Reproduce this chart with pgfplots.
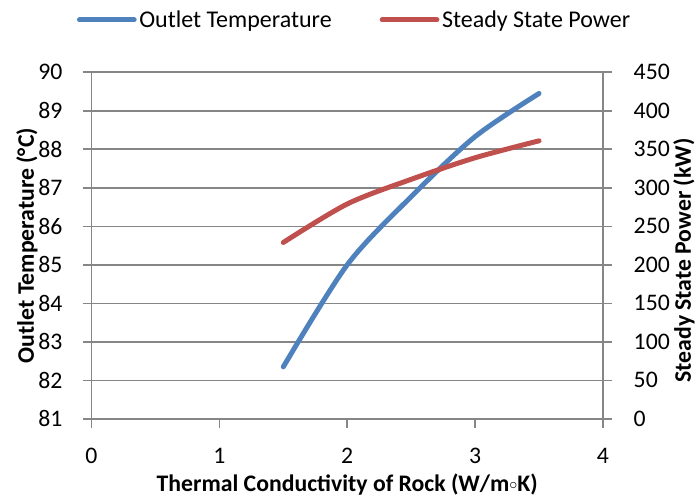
\documentclass[border=0pt]{standalone}
\usepackage{fontspec}
\setmainfont{Carlito}
\usepackage{pgfplots}
\pgfplotsset{compat=1.18}
\definecolor{tblue}{HTML}{4F81BD}
\definecolor{tred}{HTML}{C0504D}
\definecolor{gridgray}{HTML}{868686}

\pgfplotsset{
  common/.style={
    scale only axis, width=383.6pt, height=259.9pt,
    xmin=0, xmax=4,
    /pgf/number format/assume math mode=true,
    tick label style={font=\fontsize{17.8}{21}\selectfont},
    label style={font=\fontsize{17.8}{21}\selectfont\bfseries},
    tick align=outside, major tick length=6.5pt,
    tick style={gridgray, line width=1.2pt},
    axis line style={gridgray, line width=1.2pt},
  }
}

\begin{document}
\begin{tikzpicture}
\path[use as bounding box] (-68.6pt,-57.9pt) rectangle (454.85pt,314.1pt);

\begin{axis}[common,
    ymin=81, ymax=90, ytick={81,...,90},
    xtick={0,...,4},
    axis y line*=left, axis x line*=bottom,
    ymajorgrids, grid style={gridgray, line width=1.2pt},
    xticklabel style={yshift=-12pt},
    yticklabel style={xshift=-11.8pt},
    xlabel={Thermal Conductivity of Rock (W/m\raisebox{0.12em}{$\scriptstyle\circ$}K)},
    ylabel={Outlet Temperature (°C)},
    xlabel style={at={(axis description cs:0.5,-0.191)}, anchor=center},
    ylabel style={at={(axis description cs:-0.126,0.5)}, anchor=center},
    legend columns=2,
    legend style={draw=none, fill=none, at={(axis description cs:0.515,1.151)}, anchor=center,
      font=\fontsize{18}{21}\selectfont,
      /tikz/every even column/.append style={column sep=34pt}},
    legend image code/.code={\draw[#1, line cap=round] (0pt,0pt) -- (41pt,0pt);},
  ]
  \addplot[tblue, line width=3.75pt, line cap=round, smooth] coordinates {
    (1.5,82.35) (2,85.0) (2.5,86.77) (3,88.33) (3.5,89.45)
  };
  \addlegendentry{Outlet Temperature}
  \addlegendimage{tred, line width=3.75pt}
  \addlegendentry{Steady State Power}
\end{axis}

\begin{axis}[common,
    ymin=0, ymax=450, ytick={0,50,...,450},
    axis y line*=right, axis x line=none,
    yticklabel style={xshift=13pt},
    ylabel={Steady State Power (kW)},
    ylabel style={at={(axis description cs:1.158,0.457)}, anchor=center, inner sep=0pt},
  ]
  \addplot[tred, line width=3.75pt, line cap=round, smooth] coordinates {
    (1.5,229) (2,279) (2.5,311) (3,339) (3.5,361)
  };
\end{axis}
\end{tikzpicture}
\end{document}
